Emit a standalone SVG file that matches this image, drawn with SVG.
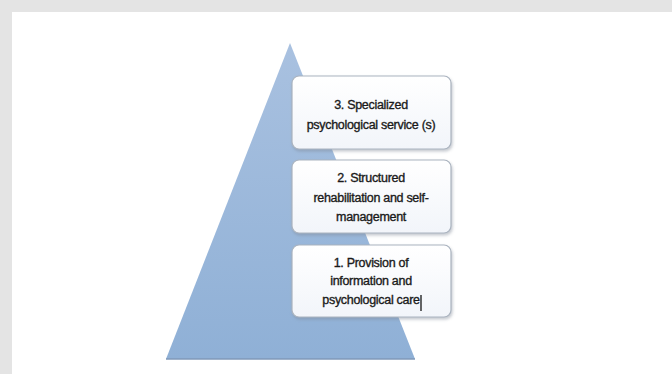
<svg xmlns="http://www.w3.org/2000/svg" width="672" height="374" viewBox="0 0 672 374">
<style>
.box{fill:url(#boxg);stroke:#aab3bf;stroke-width:1.2;filter:url(#sh)}
.t{font-family:"Liberation Sans",Arial,sans-serif;font-size:12.5px;fill:#1a1a1a;stroke:#1a1a1a;stroke-width:0.35;text-anchor:middle;letter-spacing:-0.3px}
</style>
<defs>
<linearGradient id="tri" x1="0" y1="0" x2="0" y2="1">
<stop offset="0" stop-color="#a9c1e0"/>
<stop offset="1" stop-color="#8fb0d6"/>
</linearGradient>
<linearGradient id="boxg" x1="0" y1="0" x2="0" y2="1">
<stop offset="0" stop-color="#ffffff"/>
<stop offset="1" stop-color="#f2f5fa"/>
</linearGradient>
<filter id="sh" x="-10%" y="-10%" width="120%" height="130%">
<feDropShadow dx="1" dy="2" stdDeviation="1.5" flood-color="#7a8594" flood-opacity="0.45"/>
</filter>
</defs>
<rect x="0" y="0" width="672" height="374" fill="#e4e4e4"/>
<rect x="12" y="12" width="660" height="362" fill="#ffffff"/>
<g id="pyramid">
<polygon points="290,43 415,359 166,359" fill="url(#tri)"/>
<line x1="166" y1="359" x2="415" y2="359" stroke="#7f98b8" stroke-width="1.5"/>
</g>
<g id="level3">
<rect class="box" x="292" y="76" width="159" height="73" rx="7"/>
<text class="t" x="371" y="109">3. Specialized</text>
<text class="t" x="371" y="129">psychological service (s)</text>
</g>
<g id="level2">
<rect class="box" x="292" y="160" width="159" height="73" rx="7"/>
<text class="t" x="371" y="182">2. Structured</text>
<text class="t" x="371" y="202">rehabilitation and self-</text>
<text class="t" x="371" y="221">management</text>
</g>
<g id="level1">
<rect class="box" x="292" y="245" width="159" height="72" rx="7"/>
<text class="t" x="371" y="267">1. Provision of</text>
<text class="t" x="371" y="285">information and</text>
<text class="t" x="371" y="304">psychological care</text>
<line x1="421" y1="295" x2="421" y2="311" stroke="#000" stroke-width="1.2"/>
</g>
<g id="connectors"/>
</svg>
